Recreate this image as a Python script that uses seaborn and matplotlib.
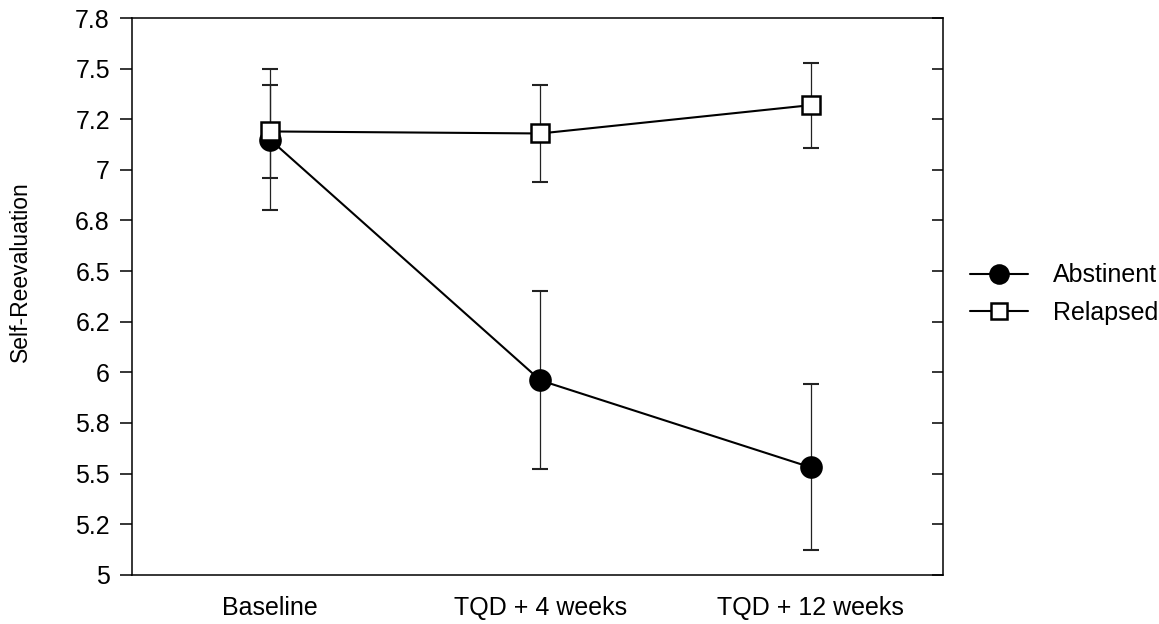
import numpy as np
import pandas as pd
import matplotlib
matplotlib.use("Agg")
import matplotlib.pyplot as plt
import seaborn as sns

categories = ["Baseline", "TQD + 4 weeks", "TQD + 12 weeks"]
abstinent_mean = [7.15, 5.96, 5.53]
abstinent_err = [0.35, 0.44, 0.41]
relapsed_mean = [7.19, 7.18, 7.32]
relapsed_err = [0.23, 0.24, 0.21]
ytick_values = [5.0, 5.25, 5.5, 5.75, 6.0, 6.25, 6.5, 6.75, 7.0, 7.25, 7.5, 7.75]
ytick_labels = ["5", "5.2", "5.5", "5.8", "6", "6.2", "6.5", "6.8", "7", "7.2", "7.5", "7.8"]

sns.set_theme(style="white")
plt.rcParams["font.family"] = ["Liberation Sans", "DejaVu Sans"]
plt.rcParams["text.color"] = "black"
plt.rcParams["axes.labelcolor"] = "black"
plt.rcParams["xtick.color"] = "black"
plt.rcParams["ytick.color"] = "black"

df = pd.DataFrame({
    "time": categories * 2,
    "pos": list(range(len(categories))) * 2,
    "value": abstinent_mean + relapsed_mean,
    "err": abstinent_err + relapsed_err,
    "group": ["Abstinent"] * 3 + ["Relapsed"] * 3,
})

fig = plt.figure(figsize=(11.59, 6.24), dpi=100)
ax = fig.add_axes([0.114, 0.079, 0.700, 0.892])

styles = {"Abstinent": ("o", "black", 4, 14.5), "Relapsed": ("s", "white", 5, 13.5)}
for grp, (mk, fc, z, ms) in styles.items():
    sub = df[df.group == grp]
    ax.errorbar(sub["pos"], sub["value"], yerr=sub["err"], fmt="none",
                ecolor="#222222", elinewidth=0.9, capsize=5.5, capthick=1.5, zorder=2)
    sns.lineplot(x=sub["pos"], y=sub["value"], ax=ax, color="black", lw=1.5,
                 marker=mk, markersize=ms, markerfacecolor=fc,
                 markeredgecolor="black", markeredgewidth=1.8,
                 label=grp, zorder=z)

ax.set_xlim(-0.51, 2.49)
ax.set_ylim(5.0, 7.75)
ax.set_xticks(range(len(categories)))
ax.set_xticklabels(categories, fontsize=18)
ax.set_yticks(ytick_values)
ax.set_yticklabels(ytick_labels, fontsize=18)
ax.set_xlabel("")
ax.set_ylabel("Self-Reevaluation", fontsize=16.5)
ax.yaxis.set_label_coords(-0.123, 0.544)
ax.tick_params(axis="x", length=0, pad=15)
ax.tick_params(axis="y", direction="out", length=9, width=1.1, left=True, pad=7)
for s in ax.spines.values():
    s.set_color("black")
    s.set_linewidth(1.1)

ax2 = ax.twinx()
ax2.set_ylim(ax.get_ylim())
ax2.set_yticks(ytick_values)
ax2.tick_params(axis="y", direction="in", length=8, width=1.1,
                right=True, labelright=False)
ax2.grid(False)
for s in ax2.spines.values():
    s.set_visible(False)

leg = ax.legend(loc="center left", bbox_to_anchor=(1.033, 0.504), frameon=False,
                fontsize=18, handlelength=2.3, markerscale=0.9,
                labelspacing=0.55, handletextpad=1.0, borderpad=0, borderaxespad=0)
ax.grid(False)

fig.savefig("out.png", dpi=100)
